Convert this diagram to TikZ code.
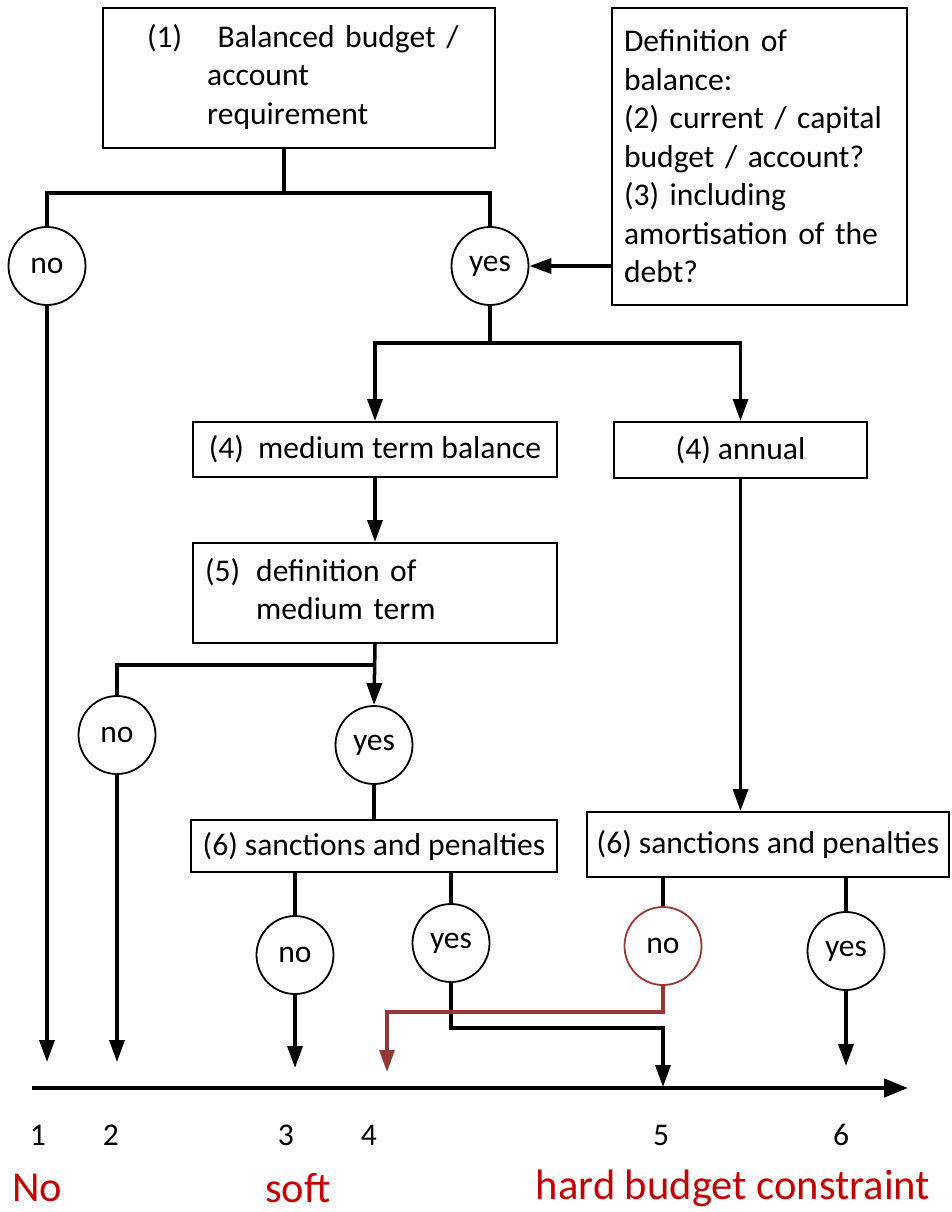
\documentclass[tikz,border=0pt]{standalone}
\usepackage{fontspec}
\setmainfont{Carlito}
\usepackage{tikz}
\usetikzlibrary{shapes.geometric, arrows.meta, calc}
\definecolor{darkred}{RGB}{149,55,53}
\definecolor{labelred}{RGB}{192,0,0}
\tikzset{
	box/.style={
		rectangle,
		draw=black,
		line width=2pt,
		inner sep=0pt,
		text centered,
		font=\fontsize{31.6pt}{38.5pt}\selectfont
	},
	answer/.style={
		ellipse,
		draw=black,
		line width=1.8pt,
		minimum width=77pt,
		minimum height=78pt,
		inner sep=0pt,
		font=\fontsize{31.6pt}{38.5pt}\selectfont
	},
	tick/.style={font=\fontsize{31.6pt}{38.5pt}\selectfont},
	grade/.style={inner sep=0pt, font=\fontsize{42.6pt}{50pt}\selectfont, text=labelred},
	line/.style={line width=3.5pt},
	arrow/.style={line width=3.5pt,-{Triangle[length=22pt,width=15pt]}},
	redarrow/.style={line width=3.2pt,draw=darkred,-{Triangle[length=22pt,width=15pt]}}
}

\begin{document}
\begin{tikzpicture}[x=1pt,y=-1pt]
				\useasboundingbox (0,0) rectangle (951,1212);
				% boxes
				\node (req) [box, minimum width=392pt, minimum height=140pt, text width=304pt, align=left] at (299,78)
					{\begin{tabular}{@{}l@{\hspace{25pt}}l@{}}(1) & \ Balanced budget /\\ & account\\ & requirement\end{tabular}};
				\node (def) [box, minimum width=295pt, minimum height=297pt, text width=271pt, align=left] at (759.5,156.5)
					{Definition of\\ balance:\\ (2) current / capital\\ budget / account?\\ (3) including\\ amortisation of the\\ debt?};
				\node (medium) [box, minimum width=364pt, minimum height=55pt] at (375,449.5) {(4)\ \ medium term balance};
				\node (annual) [box, minimum width=253pt, minimum height=56pt] at (740.5,450) {(4) annual};
				\node (mdef) [box, minimum width=364pt, minimum height=100pt, text width=340pt, align=left] at (375,593)
					{\begin{tabular}{@{}l@{\hspace{16pt}}l@{}}(5) & definition of\\ & medium term\end{tabular}};
				\node (sancm) [box, minimum width=366pt, minimum height=52pt] at (374,846) {(6) sanctions and penalties};
				\node (sanca) [box, minimum width=362pt, minimum height=65pt] at (768,844.5) {(6) sanctions and penalties};
				% answers
				\node (no1) [answer] at (47,266) {no};
				\node (yes1) [answer] at (490,266) {yes};
				\node (no2) [answer] at (117,735) {no};
				\node (yes2) [answer] at (374,745) {yes};
				\node (no3) [answer] at (295,955) {no};
				\node (yes3) [answer] at (451,943) {yes};
				\node (no4) [answer, draw=darkred] at (663,946) {no};
				\node (yes4) [answer] at (846,951) {yes};
				% junctions and ends
				\coordinate (split1) at (284,193);
				\coordinate (split2) at (490,343);
				\coordinate (split3) at (374,665);
				\coordinate (bend5) at (663,1028);
				\coordinate (bend4) at (387,1012);
				\coordinate (end1) at (47,1062);
				\coordinate (end2) at (117,1062);
				\coordinate (end3) at (295,1068);
				\coordinate (end4) at (387,1072);
				\coordinate (end5) at (663,1087);
				\coordinate (end6) at (846,1066);
				\coordinate (axisstart) at (32,1088);
				\coordinate (axisend) at (908,1088);
				
				\draw [line] (req.south -| split1) -- (split1);
				\draw [line] (no1.north) |- (split1) -| (yes1.north);
				\draw [arrow] (def.west |- yes1) -- (yes1.east);
				\draw [arrow] (no1.south) -- (end1);
				\draw [line] (yes1.south) -- (split2);
				\draw [arrow] (split2) -| (medium.north);
				\draw [arrow] (split2) -| (annual.north);
				\draw [arrow] (medium.south) -- (mdef.north);
				\draw [arrow] (mdef.south) -- (yes2.north);
				\draw [line] (split3) -| (no2.north);
				\draw [arrow] (no2.south) -- (end2);
				\draw [line] (yes2.south) -- (sancm.north);
				\draw [arrow] (annual.south) -- (sanca.north -| annual);
				\draw [line] (sancm.south -| no3) -- (no3.north);
				\draw [line] (sancm.south -| yes3) -- (yes3.north);
				\draw [line] (sanca.south -| no4) -- (no4.north);
				\draw [line] (sanca.south -| yes4) -- (yes4.north);
				\draw [arrow] (no3.south) -- (end3);
				\draw [arrow] (yes3.south) |- (bend5) -- (end5);
				\draw [redarrow] (no4.south) |- (bend4) -- (end4);
				\draw [arrow] (yes4.south) -- (end6);
				\draw [line width=4.5pt,-{Triangle[length=24pt,width=18pt]}] (axisstart) -- (axisend);
				
				% scale
				\node (n1) [tick] at (38,1135) {1};
				\node (n2) [tick] at (111,1135) {2};
				\node (n3) [tick] at (286,1135) {3};
				\node (n4) [tick] at (369,1135) {4};
				\node (n5) [tick] at (661,1135) {5};
				\node (n6) [tick] at (841,1135) {6};
				\node (gno) [grade] at (37,1188) {No};
				\node (gsoft) [grade] at (298,1188) {soft};
				\node (ghard) [grade] at (733,1188) {hard budget constraint};
			\end{tikzpicture}
\end{document}
